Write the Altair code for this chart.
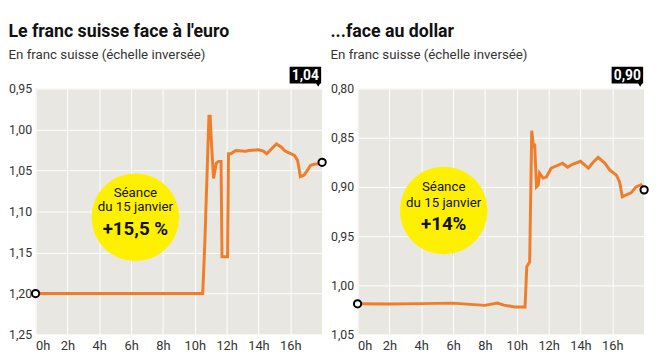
import altair as alt
import pandas as pd

# ---- data ----
eur_hours = [0, 10.5, 10.63, 10.89, 10.97, 11.04, 11.18, 11.35, 11.49, 11.65, 11.71, 12.06, 12.12,
             12.27, 12.57, 13.19, 13.39, 14.0, 14.31, 14.52, 14.72, 15.13, 15.44, 15.64, 15.85,
             16.05, 16.26, 16.46, 16.63, 16.87, 17.08, 17.28, 17.49, 17.9, 18.0]
eur_values = [1.20, 1.20, 1.139, 0.984, 0.984, 1.0136, 1.0596, 1.041, 1.039, 1.039, 1.155, 1.155, 1.0296,
              1.0296, 1.0256, 1.0264, 1.0256, 1.0248, 1.0264, 1.0296, 1.0256, 1.0176, 1.0216, 1.0256, 1.028,
              1.0296, 1.0316, 1.0376, 1.0576, 1.0556, 1.0496, 1.0436, 1.0424, 1.0416, 1.04]

usd_hours = [0, 2.0, 4.0, 5.96, 7.99, 8.78, 9.2, 9.89, 10.52, 10.63, 10.81, 10.94, 11.06, 11.12, 11.24,
             11.35, 11.43, 11.65, 11.86, 12.16, 12.58, 12.88, 13.19, 13.5, 14.0, 14.5, 14.8, 15.11,
             15.54, 15.85, 16.26, 16.46, 16.63, 16.88, 17.18, 17.49, 17.8, 18.0]
usd_values = [1.0187, 1.019, 1.0185, 1.018, 1.0203, 1.018, 1.020, 1.022, 1.022, 0.981, 0.976, 0.843, 0.86,
              0.856, 0.90, 0.898, 0.886, 0.891, 0.89, 0.881, 0.878, 0.876, 0.88, 0.877, 0.874, 0.881,
              0.875, 0.87, 0.876, 0.883, 0.888, 0.895, 0.91, 0.908, 0.906, 0.90, 0.898, 0.903]

x_ticks = [0, 2, 4, 6, 8, 10, 12, 14, 16]
eur_ticks = [0.95, 1.00, 1.05, 1.10, 1.15, 1.20, 1.25]
usd_ticks = [0.80, 0.85, 0.90, 0.95, 1.00, 1.05]

titles = ["Le franc suisse face à l'euro", "...face au dollar"]
subtitle = "En franc suisse (échelle inversée)"
badge_lines = [["Séance", "du 15 janvier", "+15,5 %"], ["Séance", "du 15 janvier", "+14%"]]
badge_pos = [(6.27, 1.107), (5.41, 0.924)]

FONT = "Roboto"
ORANGE = "#f07d2a"
YELLOW = "#fff000"
BG = "#e9e7e1"
W, H = 291, 250


def panel(hours, values, ticks, title, lines, pos, line_dy):
    df = pd.DataFrame({"h": hours, "v": values})
    ends = df.iloc[[0, -1]]
    last = values[-1]
    x = alt.X("h:Q", scale=alt.Scale(domain=[0, 18], nice=False, zero=False),
              axis=alt.Axis(values=x_ticks, labelExpr="datum.value + 'h'", title=None,
                            grid=True, gridColor="white", gridWidth=1, domain=False, ticks=False,
                            labelOverlap=False, labelFont=FONT, labelFontSize=13,
                            labelColor="#333", labelPadding=5))
    y = alt.Y("v:Q", scale=alt.Scale(domain=[ticks[0], ticks[-1]], reverse=True, nice=False, zero=False),
              axis=alt.Axis(values=ticks, labelExpr="replace(format(datum.value, '.2f'), '.', ',')",
                            title=None, grid=True, gridColor="white", gridWidth=1, domain=False,
                            ticks=False, labelOverlap=False, labelFont=FONT, labelFontSize=12.5,
                            labelColor="#333", labelPadding=4))
    line = alt.Chart(df).mark_line(color=ORANGE, strokeWidth=3, interpolate="linear").encode(x=x, y=y)
    pts = alt.Chart(ends).mark_point(shape="circle", size=55, filled=True, fill="white",
                                     stroke="black", strokeWidth=2, opacity=1).encode(x=x, y=y)
    bdf = pd.DataFrame({"h": [pos[0]], "v": [pos[1]]})
    blob = alt.Chart(bdf).mark_point(shape="circle", size=7900, filled=True, color=YELLOW,
                                     opacity=1).encode(x=x, y=y)
    texts = []
    for i, (t, dy) in enumerate(zip(lines, line_dy)):
        bold = i == 2
        texts.append(alt.Chart(bdf).mark_text(text=t, font=FONT, fontSize=19 if bold else 13.5,
                                               fontWeight="bold" if bold else "normal",
                                               color="#111", dy=dy, baseline="middle",
                                               align="center").encode(x=x, y=y))
    ldf = pd.DataFrame({"t": [f"{last:.2f}".replace(".", ",")]})
    box = alt.Chart(ldf).mark_rect(color="black").encode(
        x=alt.value(W - 33), x2=alt.value(W - 1), y=alt.value(-22), y2=alt.value(-5))
    tri = alt.Chart(ldf).mark_point(shape="triangle-down", filled=True, color="black", size=30,
                                    opacity=1).encode(x=alt.value(W - 4), y=alt.value(-4))
    lab = alt.Chart(ldf).mark_text(color="white", font=FONT, fontSize=14, fontWeight="bold",
                                   baseline="middle", align="center").encode(
        text="t:N", x=alt.value(W - 17), y=alt.value(-13))
    return alt.layer(blob, *texts, line, pts, box, tri, lab).properties(
        width=W, height=H,
        title=alt.TitleParams(text=title, subtitle=subtitle, anchor="start", frame="bounds",
                              font=FONT, fontSize=18, fontWeight="bold", color="#111",
                              subtitleFont=FONT, subtitleFontSize=13.5, subtitleColor="#333",
                              subtitlePadding=8, offset=5))


left = panel(eur_hours, eur_values, eur_ticks, titles[0], badge_lines[0], badge_pos[0], [-25, -10, 12])
right = panel(usd_hours, usd_values, usd_ticks, titles[1], badge_lines[1], badge_pos[1], [-24, -8, 14])

chart = alt.hconcat(left, right, spacing=36, bounds="flush").properties(
    padding={"left": 0, "top": 12, "right": 0, "bottom": 0},
    background="white"
).configure_view(fill=BG, stroke=None)

chart.save("out.html", embed_options={"renderer": "svg", "actions": False})
